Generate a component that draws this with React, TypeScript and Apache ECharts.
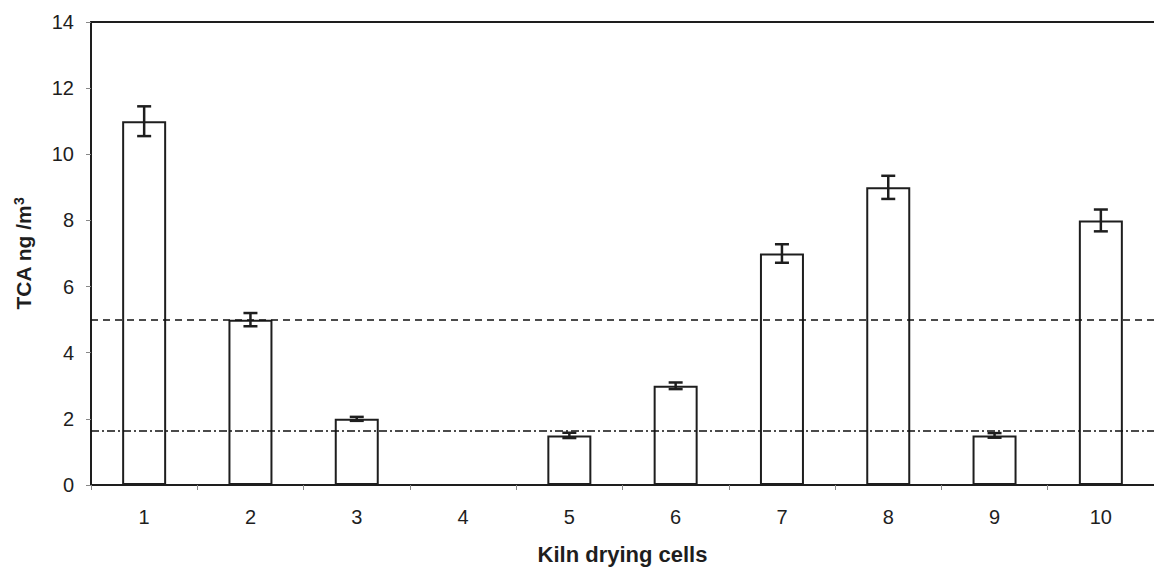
import React, { useEffect, useRef } from "react";
import * as echarts from "echarts";

const categories = ["1", "2", "3", "4", "5", "6", "7", "8", "9", "10"];
const values = [11, 5, 2, 0, 1.5, 3, 7, 9, 1.5, 8];
const errors = [0.45, 0.2, 0.06, 0, 0.08, 0.1, 0.28, 0.35, 0.07, 0.33];
const dashedLevel = 5;
const dashDotLevel = 1.65;

export default function App() {
  const ref = useRef<HTMLDivElement>(null);
  useEffect(() => {
    document.body.style.margin = "0";
    const chart = echarts.init(ref.current!, null, { renderer: "svg" });
    const ink = "#1e1e1e";
    const font = "'Liberation Sans', Arial, sans-serif";
    const errData = values
      .map((v, i) => [i, v - errors[i], v + errors[i], errors[i]])
      .filter((d) => d[3] > 0);
    chart.setOption({
      animation: false,
      backgroundColor: "#fff",
      grid: { left: 91, right: 0, top: 22, bottom: 84, containLabel: false, outerBoundsMode: "none" },
      xAxis: [
        {
          type: "category",
          data: categories,
          axisLine: { lineStyle: { color: ink, width: 2 } },
          axisTick: { show: true, length: 5, lineStyle: { color: "#888" } },
          axisLabel: { color: ink, fontSize: 20, fontFamily: font, margin: 22 },
          name: "Kiln drying cells",
          nameLocation: "middle",
          nameGap: 58,
          nameTextStyle: { color: ink, fontSize: 22, fontWeight: "bold", fontFamily: font },
        },
        {
          type: "category",
          data: categories,
          position: "top",
          axisLine: { show: true, lineStyle: { color: ink, width: 2 } },
          axisTick: { show: false },
          axisLabel: { show: false },
        },
      ],
      yAxis: {
        type: "value",
        min: 0,
        max: 14,
        interval: 2,
        axisLine: { show: true, lineStyle: { color: ink, width: 2 } },
        axisTick: { show: true, length: 5, lineStyle: { color: "#888" } },
        splitLine: { show: false },
        axisLabel: { color: ink, fontSize: 20, fontFamily: font, margin: 17 },
        name: "{a|TCA ng /m}{s|3}",
        nameLocation: "middle",
        nameGap: 56,
        nameTextStyle: {
          color: ink,
          fontFamily: font,
          rich: {
            a: { fontSize: 21, fontWeight: "bold", fontFamily: font, color: ink },
            s: { fontSize: 14, fontWeight: "bold", fontFamily: font, color: ink, verticalAlign: "top", padding: [0, 0, 9, 0] },
          },
        },
      },
      series: [
        {
          type: "bar",
          data: values,
          barWidth: 44,
          itemStyle: { color: "#fff", borderColor: ink, borderWidth: 2 },
          markLine: {
            silent: true,
            symbol: "none",
            label: { show: false },
            data: [
              { yAxis: dashedLevel, lineStyle: { type: [7, 5], color: "#111", width: 1.6 } },
              { yAxis: dashDotLevel, lineStyle: { type: [8, 3, 2, 3], color: "#111", width: 1.6 } },
            ],
          },
          z: 2,
        },
        {
          type: "custom",
          data: errData,
          z: 5,
          renderItem: (params: any, api: any) => {
            const i = api.value(0);
            const lo = api.coord([i, api.value(1)]);
            const hi = api.coord([i, api.value(2)]);
            const x = lo[0];
            const hw = 7;
            const st = { stroke: ink, lineWidth: 2.5 };
            return {
              type: "group",
              children: [
                { type: "line", shape: { x1: x, y1: lo[1], x2: x, y2: hi[1] }, style: st },
                { type: "line", shape: { x1: x - hw, y1: lo[1], x2: x + hw, y2: lo[1] }, style: st },
                { type: "line", shape: { x1: x - hw, y1: hi[1], x2: x + hw, y2: hi[1] }, style: st },
              ],
            };
          },
        },
      ],
    });
    return () => chart.dispose();
  }, []);
  return <div ref={ref} style={{ width: 1154, height: 569 }} />;
}
